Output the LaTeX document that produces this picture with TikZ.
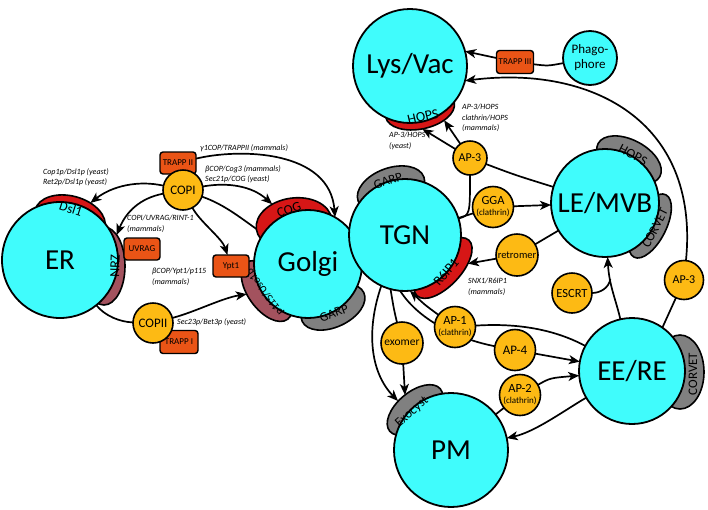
\documentclass[tikz,border=0pt]{standalone}
\usepackage{fontspec}
\setmainfont{Carlito}
\usetikzlibrary{shapes.geometric,arrows.meta,backgrounds}
\definecolor{cyanc}{RGB}{64,252,252}
\definecolor{capred}{RGB}{214,22,22}
\definecolor{mauve}{RGB}{163,82,94}
\definecolor{capgray}{RGB}{128,128,128}
\definecolor{yel}{RGB}{253,186,20}
\definecolor{orn}{RGB}{234,84,22}
\newcommand\myfs[1]{\fontsize{#1}{#1}\selectfont}
\begin{document}
\begin{tikzpicture}[x=1pt,y=-1pt,
  mainc/.style={circle, draw, line width=1.8pt, fill=cyanc, inner sep=0pt, outer sep=0pt, font=\myfs{29}},
  capn/.style={ellipse, draw, line width=1.6pt, inner sep=0pt, outer sep=0pt},
  smallc/.style={circle, draw, line width=1.6pt, fill=yel, inner sep=0pt, outer sep=0pt, minimum size=40pt, align=center},
  boxn/.style={draw, line width=1.4pt, fill=orn, rounded corners=3pt, inner sep=0pt, outer sep=0pt, minimum width=36pt, minimum height=22pt, font=\myfs{9}},
  capt/.style={inner sep=0pt},
  lbl/.style={font=\fontsize{8}{10.5}\selectfont\itshape, align=left, inner sep=0pt},
  conn/.style={line width=1.7pt},
  arr/.style={conn, -{Stealth[length=11pt,width=9pt,inset=3pt]}}]
\useasboundingbox (0,0) rectangle (708,509);

% caps (behind the compartments)
\node[capn, fill=capred, minimum width=72pt, minimum height=46pt, rotate=-15] (dslC) at (70,219) {};
\node[capn, fill=mauve, minimum width=42pt, minimum height=78pt] (nrzC) at (104,266) {};
\node[capn, fill=capred, minimum width=76pt, minimum height=52pt, rotate=8] (cogC) at (294,224) {};
\node[capn, fill=mauve, minimum width=70pt, minimum height=38pt, rotate=-54] (p115C) at (267,291) {};
\node[capn, fill=capgray, minimum width=68pt, minimum height=40pt, rotate=25] (garpG) at (333,307) {};
\node[capn, fill=capgray, minimum width=70pt, minimum height=42pt, rotate=20] (garpT) at (391,189) {};
\node[capn, fill=capred, minimum width=76pt, minimum height=36pt, rotate=47] (r6C) at (443,268) {};
\node[capn, fill=capred, minimum width=70pt, minimum height=38pt, rotate=12] (hopsL) at (420,110) {};
\node[capn, fill=capgray, minimum width=70pt, minimum height=40pt, rotate=-28] (hopsM) at (629,160) {};
\node[capn, fill=capgray, minimum width=70pt, minimum height=32pt, rotate=63] (corvM) at (650,226) {};
\node[capn, fill=capgray, minimum width=48pt, minimum height=74pt] (corvE) at (680,372) {};
\node[capn, fill=capgray, minimum width=66pt, minimum height=36pt, rotate=40] (exoC) at (415,410) {};

% compartments
\node[mainc, minimum size=116pt] (ER) at (60,260) {ER};
\node[mainc, minimum size=108pt] (Golgi) at (308,264) {Golgi};
\node[mainc, minimum size=112pt] (TGN) at (405,235) {TGN};
\node[mainc, minimum size=114pt] (Lys) at (410,66) {Lys/Vac};
\node[mainc, minimum size=108pt] (LE) at (605,203) {LE/MVB};
\node[mainc, minimum size=106pt] (EE) at (632,371) {EE/RE};
\node[mainc, minimum size=114pt] (PM) at (451,450) {PM};
\node[mainc, minimum size=54pt, font=\fontsize{13}{15}\selectfont, align=center] (Phago) at (590,58) {Phago-\\phore};

% cap labels
\node[capt, rotate=-18, font=\myfs{13.5}] (tDsl) at (71,209) {Dsl1};
\node[capt, rotate=88, font=\myfs{14}] (tNrz) at (115,266) {NRZ};
\node[capt, rotate=18, font=\myfs{13.5}] (tCog) at (289,210) {COG};
\node[capt, rotate=126, font=\myfs{11}] (tP115) at (265,292) {p115/Uso1p};
\node[capt, rotate=21, font=\myfs{13}] (tGarpG) at (334,313) {GARP};
\node[capt, rotate=18, font=\myfs{13}] (tGarpT) at (388,181) {GARP};
\node[capt, rotate=50, font=\myfs{13.5}] (tR6) at (446,272) {R6IP1};
\node[capt, rotate=13, font=\myfs{14}] (tHopsL) at (423,117) {HOPS};
\node[capt, rotate=-28, font=\myfs{13.5}] (tHopsM) at (633,155) {HOPS};
\node[capt, rotate=63, font=\myfs{13}] (tCorvM) at (655,228) {CORVET};
\node[capt, rotate=90, font=\myfs{13}] (tCorvE) at (693,374) {CORVET};
\node[capt, rotate=41, font=\myfs{13}] (tExo) at (412,412) {Exocyst};

% tethering boxes
\node[boxn] (TRAPP2) at (178,163) {TRAPP II};
\node[boxn] (UVRAG) at (142,249) {UVRAG};
\node[boxn] (Ypt1) at (231,266) {Ypt1};
\node[boxn, minimum width=38pt, minimum height=23pt] (TRAPP1) at (179,342) {TRAPP I};
\node[boxn, minimum width=37pt, minimum height=23pt] (TRAPP3) at (515,62) {TRAPP III};

% coat / adaptor circles
\node[smallc, font=\myfs{13}] (COPI) at (183,190) {COPI};
\node[smallc, font=\myfs{13}] (COPII) at (153,323) {COPII};
\node[smallc, minimum size=34pt, font=\myfs{12}] (AP3a) at (470,158) {AP-3};
\node[smallc, minimum size=41pt] (GGA) at (493,207) {\myfs{12.5}GGA\\[-1pt]\myfs{9}(clathrin)};
\node[smallc, minimum size=42pt, font=\myfs{10.5}] (retromer) at (517,255) {retromer};
\node[smallc, minimum size=41pt] (AP1) at (455,327) {\myfs{12.5}AP-1\\[-1pt]\myfs{9}(clathrin)};
\node[smallc, minimum size=41pt, font=\myfs{13}] (AP4) at (515,350) {AP-4};
\node[smallc, minimum size=42pt, font=\myfs{11.5}] (exomer) at (402,343) {exomer};
\node[smallc, minimum size=41pt] (AP2) at (520,395) {\myfs{12.5}AP-2\\[-1pt]\myfs{9}(clathrin)};
\node[smallc, font=\myfs{12.5}] (ESCRT) at (572,293) {ESCRT};
\node[smallc, minimum size=39pt, font=\myfs{12}] (AP3b) at (684,280) {AP-3};

% italic labels
\node[lbl, anchor=north west] (lb1) at (200,144) {γ1COP/TRAPPII (mammals)};
\node[lbl, anchor=north west] (lb2) at (205,165) {βCOP/Cog3 (mammals)\\Sec21p/COG (yeast)};
\node[lbl, anchor=north west] (lb3) at (43,168) {Cop1p/Dsl1p (yeast)\\Ret2p/Dsl1p (yeast)};
\node[lbl, anchor=north west] (lb4) at (127,215) {COPI/UVRAG/RINT-1\\(mammals)};
\node[lbl, anchor=north west] (lb5) at (152,268) {βCOP/Ypt1/p115\\(mammals)};
\node[lbl, anchor=north west] (lb6) at (177,318) {Sec23p/Bet3p (yeast)};
\node[lbl, anchor=north west] (lb7) at (462,104) {AP-3/HOPS\\clathrin/HOPS\\(mammals)};
\node[lbl, anchor=north west] (lb8) at (389,132) {AP-3/HOPS\\(yeast)};
\node[lbl, anchor=north west] (lb9) at (468,278) {SNX1/R6IP1\\(mammals)};

% free ends
\coordinate (exoT) at (405,395);
\coordinate (exoT2) at (398,401);
\coordinate (escJ) at (610.3,279);

\begin{pgfonlayer}{background}
\fill[white] (0,0) rectangle (708,509);
% ER / Golgi traffic
\draw[arr] (COPI) .. controls (138,180) and (112,186) .. (dslC);
\draw[arr] (COPI) .. controls (140,198) and (126,212) .. (nrzC);
\draw[arr] (COPI) .. controls (200,222) and (222,238) .. (Ypt1);
\draw[conn] (COPI) .. controls (226,205) and (243,220) .. (Golgi);
\draw[arr] (COPI) .. controls (228,182) and (252,186) .. (cogC);
\draw[arr] (TRAPP2) .. controls (240,148) and (330,150) .. (Golgi.60);
\draw[conn] (ER) .. controls (105,316) and (120,322) .. (COPII);
\draw[arr] (COPII) .. controls (195,312) and (222,298) .. (p115C);
% lysosome
\draw[arr] (AP3a) -- (hopsL.-95);
\draw[arr] (AP3a) -- (hopsL.-35);
\draw[conn] (AP3a) .. controls (470,215) .. (TGN);
\draw[conn] (AP3a) .. controls (515,175) .. (LE);
\draw[conn] (TRAPP3) .. controls (548,66) .. (Phago);
\draw[arr] (TRAPP3) -- (Lys.15);
\draw[arr] (AP3b) .. controls (700,120) and (590,65) .. (Lys.-15);
% TGN / endosomes
\draw[conn] (TGN) -- (GGA);
\draw[arr] (GGA) -- (LE);
\draw[conn] (retromer) -- (LE);
\draw[arr] (retromer) -- (r6C);
\draw[conn] (AP1) .. controls (530,322) and (565,335) .. (EE);
\draw[arr] (AP1) .. controls (425,305) .. (TGN.-85);
\draw[conn] (TGN.-95) .. controls (420,322) and (462,340) .. (AP4);
\draw[arr] (AP4) -- (EE);
\draw[conn] (TGN.-105) .. controls (394,310) .. (exomer);
\draw[arr] (exomer) -- (exoT);
\draw[arr] (TGN.-115) .. controls (366,330) and (370,372) .. (exoT2);
\draw[conn] (PM) -- (AP2);
\draw[arr] (AP2) .. controls (550,378) .. (EE);
\draw[arr] (EE) .. controls (565,410) and (535,432) .. (PM);
\draw[arr] (EE) .. controls (616,300) and (609,285) .. (LE);
\draw[conn] (ESCRT) .. controls (600,293) and (609,288) .. (escJ);
\draw[conn] (EE.55) -- (AP3b);
\end{pgfonlayer}
\end{tikzpicture}
\end{document}
